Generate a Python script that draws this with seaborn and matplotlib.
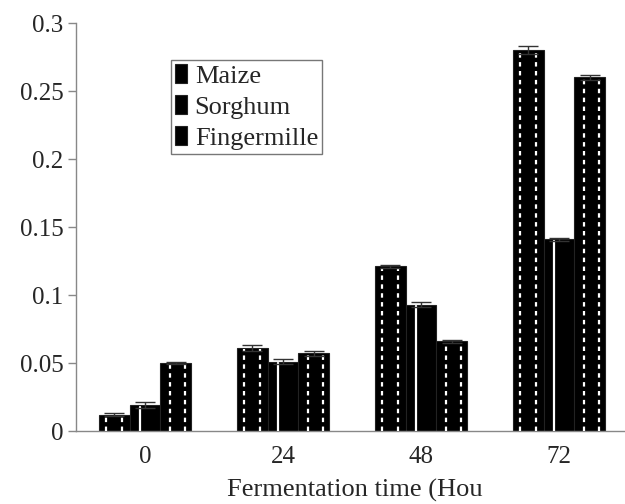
import matplotlib
matplotlib.use("Agg")
import matplotlib.pyplot as plt
import seaborn as sns
import pandas as pd

times = ["0", "24", "48", "72"]
grains = ["Maize", "Sorghum", "Fingermille"]
maize = [0.012, 0.061, 0.121, 0.280]
sorghum = [0.019, 0.051, 0.093, 0.141]
finger = [0.050, 0.057, 0.066, 0.260]
maize_err = [0.001, 0.002, 0.001, 0.003]
sorghum_err = [0.002, 0.002, 0.002, 0.001]
finger_err = [0.001, 0.002, 0.001, 0.002]

df = pd.DataFrame({
    "time": times * 3,
    "grain": [g for g in grains for _ in times],
    "value": maize + sorghum + finger,
    "err": maize_err + sorghum_err + finger_err,
})

sns.set_style("white")
plt.rcParams["font.family"] = ["Liberation Serif", "DejaVu Serif"]

fig = plt.figure(figsize=(6.25, 5.04), dpi=100)
ax = fig.add_axes([76 / 625, 73 / 504, 552 / 625, 408 / 504])

sns.barplot(data=df, x="time", y="value", hue="grain", order=times,
            hue_order=grains, palette=["black"] * 3, width=0.67,
            errorbar=None, edgecolor="#222222", linewidth=0.8,
            saturation=1, ax=ax)

# white stripes inside the bars (pattern fill)
stripe = {"Maize": ([0.25, 0.75], (0, (2, 2))),
          "Sorghum": ([0.35], "solid"),
          "Fingermille": ([0.3, 0.8], (0, (2, 2)))}
for cont, g in zip(ax.containers, grains):
    fr, ls = stripe[g]
    sub = df[df["grain"] == g]
    xs, ys = [], []
    for bar in cont:
        x0, w, h = bar.get_x(), bar.get_width(), bar.get_height()
        for f in fr:
            ax.plot([x0 + f * w] * 2, [0, h - 0.001], color="white",
                    lw=1.6, ls=ls, zorder=3)
        xs.append(x0 + w / 2)
        ys.append(h)
    ax.errorbar(xs, ys, yerr=sub["err"].values, fmt="none", ecolor="#333333",
                elinewidth=1, capsize=7, capthick=1, zorder=4)

ax.set_xlim(-0.5, 3.5)
ax.set_ylim(0, 0.3)
ax.set_yticks([0, 0.05, 0.1, 0.15, 0.2, 0.25, 0.3])
ax.set_yticklabels(["0", "0.05", "0.1", "0.15", "0.2", "0.25", "0.3"])
ax.set_xticks([0.5, 1.5, 2.5], minor=True)
ax.tick_params(axis="x", which="major", length=0, labelsize=18, pad=11)
ax.tick_params(axis="x", which="minor", length=6, color="#888888", width=1)
ax.tick_params(axis="y", length=6, color="#888888", width=1, labelsize=18,
               pad=3, left=True)
ax.set_xlabel("")
ax.set_ylabel("")
sns.despine(ax=ax)
for s in ["left", "bottom"]:
    ax.spines[s].set_color("#888888")
    ax.spines[s].set_linewidth(1)

leg = ax.legend(loc="upper left", bbox_to_anchor=(95 / 552, 1 - 37 / 408),
                fontsize=19, frameon=True, fancybox=False, edgecolor="#555555",
                handlelength=0.45, handleheight=0.75, handletextpad=0.3,
                borderpad=0.15, labelspacing=0.27, borderaxespad=0)
leg.get_frame().set_linewidth(1)

fig.text(227 / 625, 1 - 497 / 504, "Fermentation time (Hou", fontsize=19,
         ha="left", va="baseline")

fig.savefig("out.png", dpi=100)
